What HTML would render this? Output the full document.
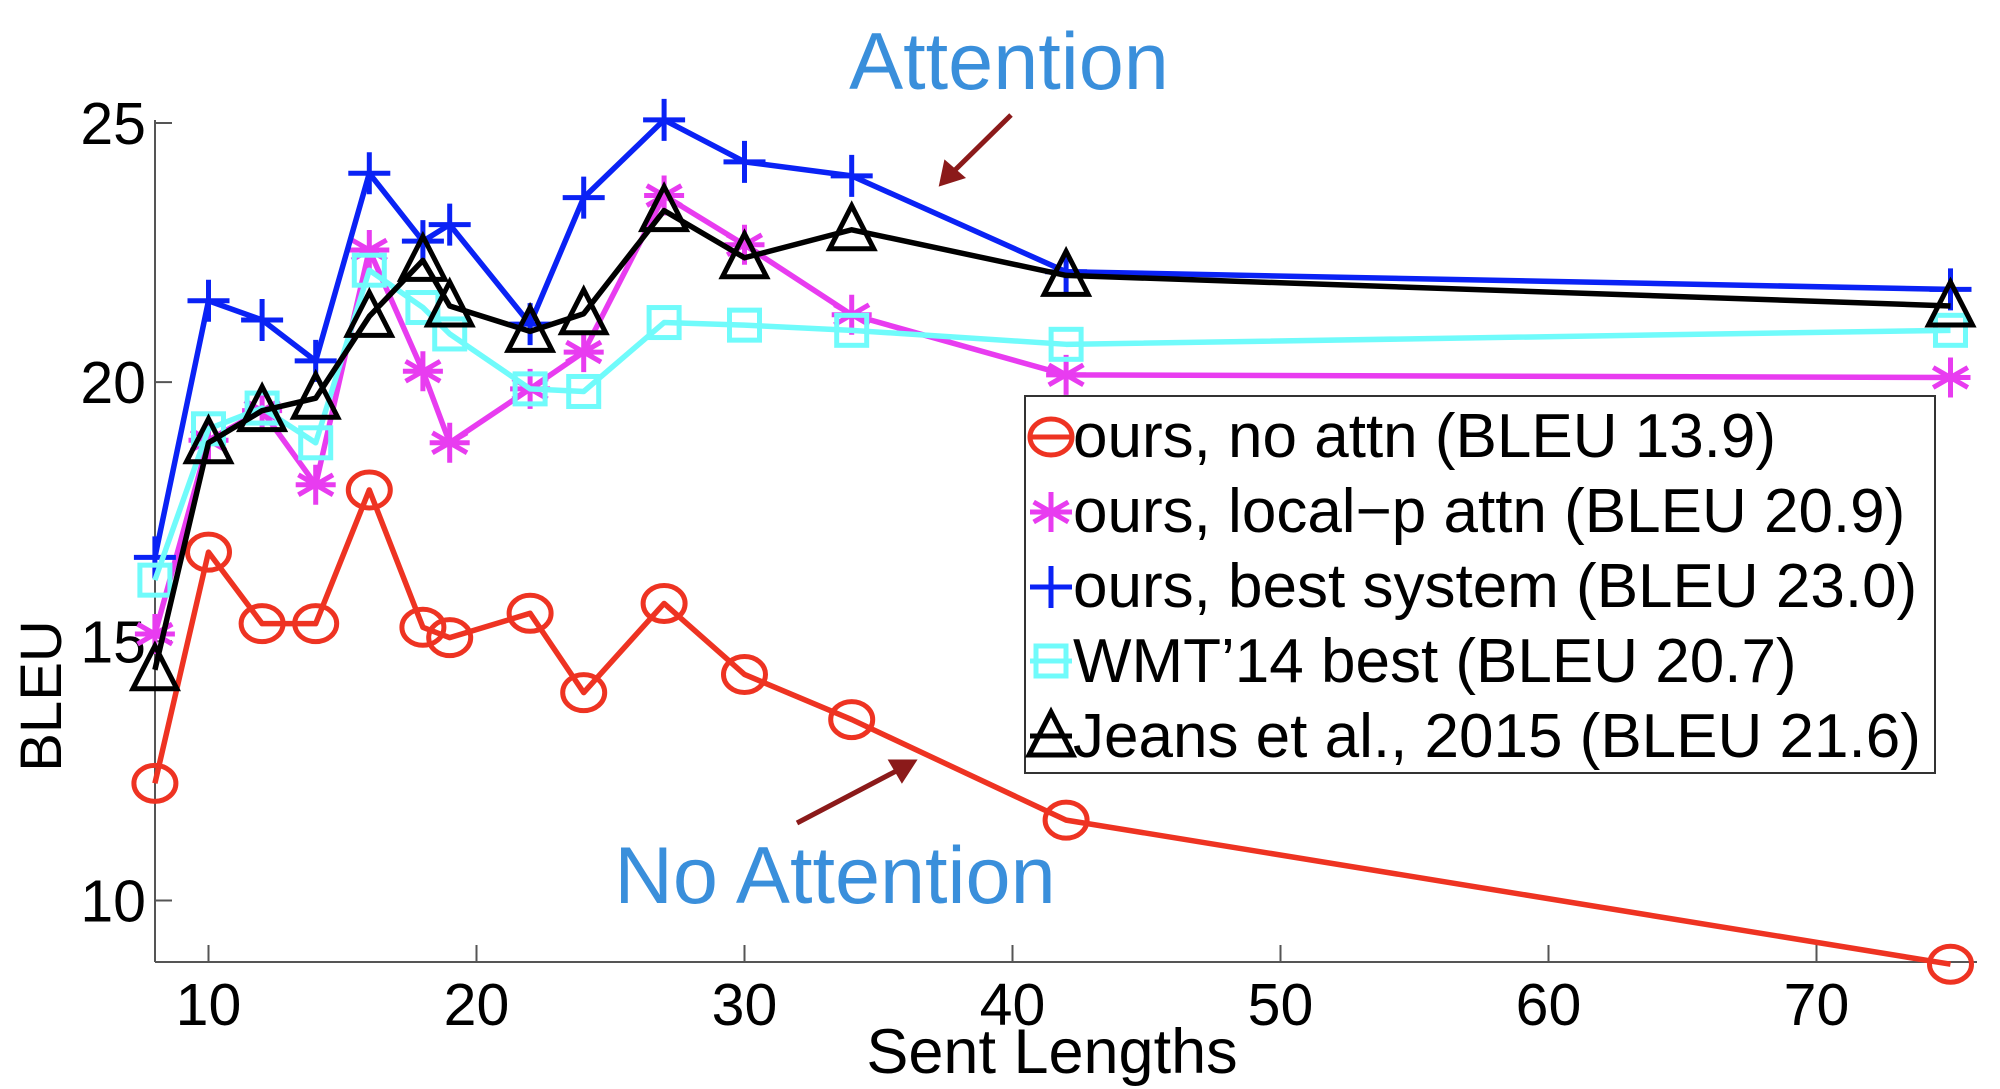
<!DOCTYPE html>
<html><head><meta charset="utf-8">
<style>
html,body{margin:0;padding:0;background:#fff;}
svg{display:block;}
text{font-family:"Liberation Sans",sans-serif;}
</style></head>
<body>
<svg id="s" xmlns="http://www.w3.org/2000/svg" width="2000" height="1089" viewBox="0 0 2000 1089">
<rect width="2000" height="1089" fill="#fff"/>
<g id="axes" stroke="#555" stroke-width="2" fill="none">
<path d="M155,962 H1977 M155,962 V120"/>
</g>
<g id="ticks" stroke="#555" stroke-width="2"></g>
<g id="tl" font-size="59" fill="#000"></g>
<g id="series"></g>
<text x="1052" y="1073" font-size="63" text-anchor="middle">Sent Lengths</text>
<text transform="translate(61,696) rotate(-90)" font-size="58" text-anchor="middle">BLEU</text>
<text x="1009" y="89" font-size="81" fill="#3a8fdb" text-anchor="middle">Attention</text>
<text x="835" y="903" font-size="81" fill="#3a8fdb" text-anchor="middle">No Attention</text>
<g stroke="#8b1a1a" stroke-width="5" fill="#8b1a1a">
<line x1="1011" y1="115" x2="952" y2="173"/>
<polygon points="942,183 946,164 961,177"/>
<line x1="797" y1="823" x2="900" y2="769"/>
<polygon points="913,762 892,762 902,779"/>
</g>
<rect x="1025" y="396" width="910" height="377" fill="#fff" stroke="#333" stroke-width="2"/>
<g id="leg" font-size="62" fill="#000">
<text x="1073" y="457">ours, no attn (BLEU 13.9)</text>
<text x="1073" y="532">ours, local−p attn (BLEU 20.9)</text>
<text x="1073" y="607">ours, best system (BLEU 23.0)</text>
<text x="1073" y="682">WMT’14 best (BLEU 20.7)</text>
<text x="1073" y="757">Jeans et al., 2015 (BLEU 21.6)</text>
</g>
<g id="legm"></g>
</svg>
<script>
var NS="http://www.w3.org/2000/svg";
function X(v){return 208.5+(v-10)*26.8;}
function Y(v){return 123+(25-v)*51.83;}
function el(p,t,a){var e=document.createElementNS(NS,t);for(var k in a)e.setAttribute(k,a[k]);p.appendChild(e);return e;}
var tk=document.getElementById('ticks'),tl=document.getElementById('tl');
[10,15,20,25].forEach(function(v){el(tk,'line',{x1:155,x2:172,y1:Y(v),y2:Y(v)});var t=el(tl,'text',{x:146,y:Y(v)+21,'text-anchor':'end'});t.textContent=v;});
[10,20,30,40,50,60,70].forEach(function(v){el(tk,'line',{x1:X(v),x2:X(v),y1:962,y2:945});var t=el(tl,'text',{x:X(v),y:1025,'text-anchor':'middle'});t.textContent=v;});
var xs=[8,10,12,14,16,18,19,22,24,27,30,34,42,75];
var S=[
{c:'#ee3322',m:'o',y:[12.26,16.72,15.34,15.34,17.92,15.27,15.07,15.54,14.01,15.73,14.36,13.49,11.55,8.77]},
{c:'#e83cf0',m:'*',y:[15.14,18.88,19.45,18.02,22.55,20.21,18.83,19.87,20.58,23.6,22.65,21.3,20.14,20.09]},
{c:'#0a22f5',m:'+',y:[16.62,21.57,21.2,20.41,24.03,22.72,23.04,21.12,23.56,25.06,24.25,23.98,22.13,21.79]},
{c:'#70fbfb',m:'s',y:[16.18,19.1,19.5,18.83,22.16,21.44,20.93,19.87,19.82,21.15,21.1,21.0,20.73,21.0]},
{c:'#000',m:'^',y:[14.45,18.83,19.45,19.69,21.27,22.35,21.47,20.98,21.32,23.31,22.4,22.94,22.06,21.47]}
];
var g=document.getElementById('series');
function mark(p,m,x,y,c){
 var a={stroke:c,'stroke-width':5,fill:'none'};
 if(m=='o'){a.cx=x;a.cy=y;a.rx=21;a.ry=18;el(p,'ellipse',a);}
 else if(m=='s'){a.x=x-15;a.y=y-15;a.width=30;a.height=30;el(p,'rect',a);}
 else if(m=='+'){a.d='M'+(x-21)+','+y+'H'+(x+21)+'M'+x+','+(y-21)+'V'+(y+21);el(p,'path',a);}
 else if(m=='*'){var d='M'+(x-20)+','+y+'H'+(x+20);for(var k=0;k<3;k++){var an=[Math.PI/2,Math.PI/6,-Math.PI/6][k];var dx=20*Math.cos(an),dy=20*Math.sin(an);d+='M'+(x-dx)+','+(y-dy)+'L'+(x+dx)+','+(y+dy);}a.d=d;el(p,'path',a);}
 else if(m=='^'){a.points=(x-22)+','+(y+19)+' '+(x+22)+','+(y+19)+' '+x+','+(y-24);el(p,'polygon',a);}
}
S.forEach(function(s){
 var pts=xs.map(function(v,i){return X(v)+','+Y(s.y[i]);}).join(' ');
 el(g,'polyline',{points:pts,stroke:s.c,'stroke-width':5.5,fill:'none','stroke-linejoin':'round'});
 xs.forEach(function(v,i){mark(g,s.m,X(v),Y(s.y[i]),s.c);});
});
var lm=document.getElementById('legm');
[[437],[512],[587],[661],[736]].forEach(function(r,i){var s=S[i];
 el(lm,'line',{x1:1030,x2:1072,y1:r[0],y2:r[0],stroke:s.c,'stroke-width':5});
 mark(lm,s.m,1051,r[0],s.c);});
</script>
</body></html>
